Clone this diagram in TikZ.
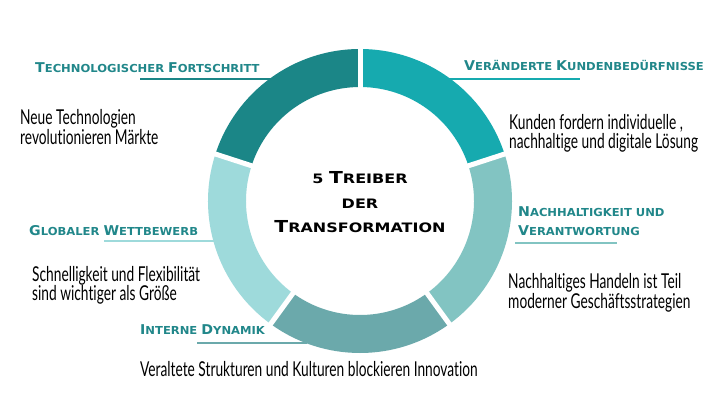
\documentclass[tikz,border=0pt]{standalone}
\usepackage{fontspec}
\setmainfont{Lato}[FakeStretch=0.67, Ligatures=NoCommon]
\newfontfamily\capsfont{DejaVu Sans}[FakeStretch=1.05]
\newfontfamily\titlefont{DejaVu Sans}[FakeStretch=1.23]

\definecolor{techcol}{HTML}{1B8687}
\definecolor{kundcol}{HTML}{16AAAF}
\definecolor{nachcol}{HTML}{82C4C2}
\definecolor{intcol}{HTML}{6BA9AB}
\definecolor{globcol}{HTML}{9EDADB}
\definecolor{headcol}{HTML}{21878A}

% first letter of a small-caps heading
\newcommand{\headcap}[1]{{\fontsize{13.5}{14}\selectfont #1}}
\newcommand{\titlecap}[1]{{\fontsize{16.5}{17}\selectfont #1}}

\tikzset{
  head/.style={font=\capsfont\bfseries\fontsize{11}{18.5}\selectfont, text=headcol,
    inner sep=0pt, anchor=base west, align=left},
  body/.style={font=\fontsize{20.5}{19.5}\selectfont, inner sep=0pt,
    anchor=base west, align=left},
  title/.style={font=\titlefont\bfseries\fontsize{13}{24.7}\selectfont,
    inner sep=0pt, anchor=base, align=center},
  rule/.style={line width=2.5pt},
  gap/.style={white, line width=5pt}
}

\begin{document}
\begin{tikzpicture}[x=1pt, y=1pt]
  \useasboundingbox[fill=white] (0,0) rectangle (720,405);

  % ring
  \begin{scope}[shift={(360,204)}]
    \foreach \a/\c in {90/kundcol, 18/nachcol, -54/intcol, -126/globcol, 162/techcol}
      \fill[\c] ({\a}:152pt) arc[start angle=\a, delta angle=-72, radius=152pt]
        -- ({\a-72}:114pt) arc[start angle=\a-72, delta angle=72, radius=114pt] -- cycle;
    \foreach \a in {90, 18, -54, -126, 162}
      \draw[gap] ({\a}:110pt) -- ({\a}:156pt);
  \end{scope}

  % centre
  \node[title] (center) at (360,172.3) {5 \titlecap{T}REIBER\\DER\\\titlecap{T}RANSFORMATION};

  % rules under the headings
  \coordinate (techL) at (140,326);  \coordinate (techR) at (272,326);
  \coordinate (kundL) at (443,326);  \coordinate (kundR) at (580,326);
  \coordinate (nachL) at (515,162);  \coordinate (nachR) at (617,162);
  \coordinate (globL) at (104,164);  \coordinate (globR) at (214,164);
  \coordinate (intL)  at (197,62);   \coordinate (intR)  at (307,62);
  \draw[rule, techcol] (techL) -- (techR);
  \draw[rule, kundcol] (kundL) -- (kundR);
  \draw[rule, nachcol] (nachL) -- (nachR);
  \draw[rule, globcol] (globL) -- (globR);
  \draw[rule, intcol] (intL) -- (intR);

  % headings
  \node[head] (tech) at (35,332.5) {\headcap{T}ECHNOLOGISCHER \headcap{F}ORTSCHRITT};
  \node[head] (kund) at (464,334) {\headcap{V}ERÄNDERTE \headcap{K}UNDENBEDÜRFNISSE};
  \node[head] (nach) at (518,170) {\headcap{N}ACHHALTIGKEIT UND\\\headcap{V}ERANTWORTUNG};
  \node[head] (glob) at (29,169.3) {\headcap{G}LOBALER \headcap{W}ETTBEWERB};
  \node[head] (int) at (140,71) {\headcap{I}NTERNE \headcap{D}YNAMIK};

  % descriptions
  \node[body] (techtxt) at (20,260.7) {Neue Technologien\\revolutionieren Märkte};
  \node[body] (kundtxt) at (509,256) {Kunden fordern individuelle ,\\nachhaltige und digitale Lösung};
  \node[body] (nachtxt) at (508,97) {Nachhaltiges Handeln ist Teil\\moderner Geschäftsstrategien};
  \node[body] (globtxt) at (32,104.3) {Schnelligkeit und Flexibilität\\sind wichtiger als Größe};
  \node[body] (inttxt) at (140,29) {Veraltete Strukturen und Kulturen blockieren Innovation};
\end{tikzpicture}
\end{document}
